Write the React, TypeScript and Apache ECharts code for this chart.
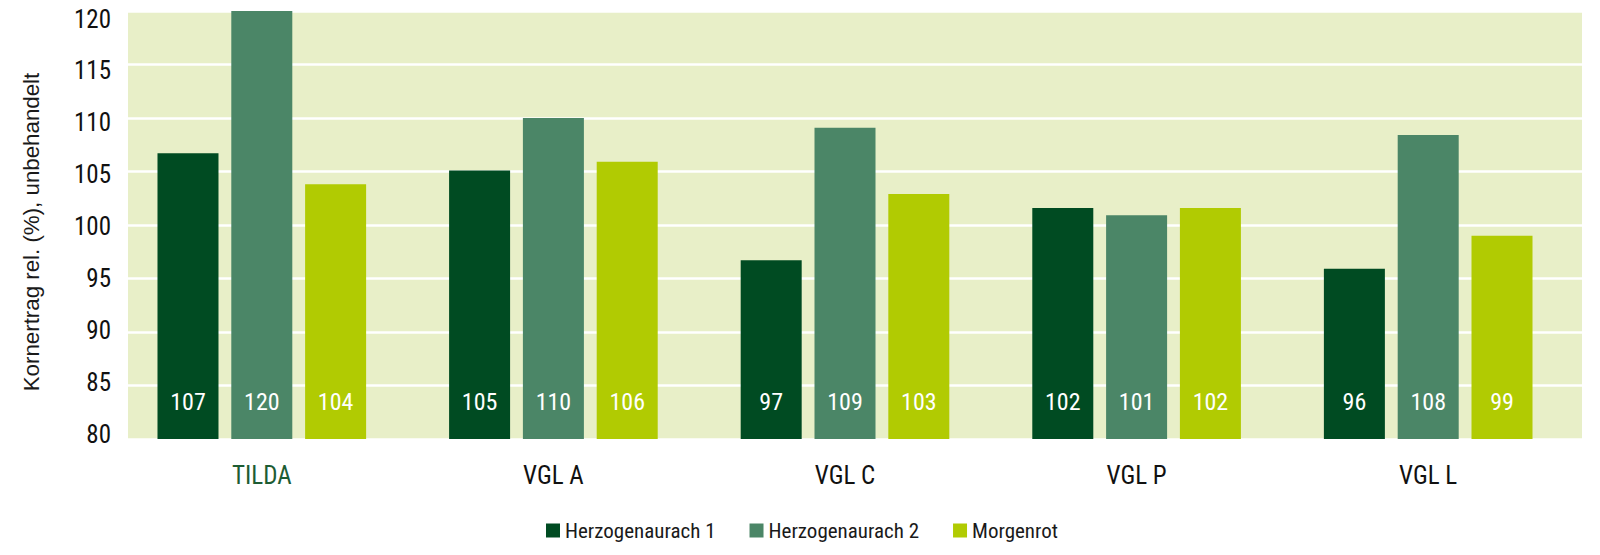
import React, { useEffect, useRef } from "react";
import * as echarts from "echarts";

const categories = ["TILDA", "VGL A", "VGL C", "VGL P", "VGL L"];
const seriesNames = ["Herzogenaurach 1", "Herzogenaurach 2", "Morgenrot"];
const herzogenaurach1 = [106.7, 105.1, 96.7, 101.6, 95.9];
const herzogenaurach2 = [120, 110, 109.1, 100.9, 108.4];
const morgenrot = [103.8, 105.9, 102.9, 101.6, 99.0];
const yTicks = { min: 80, max: 120, interval: 5 };
const yAxisTitle = "Kornertrag rel. (%), unbehandelt";
const colors = ["#004b22", "#4b8667", "#b1cb02"];

const NARROW = "'Roboto Condensed', 'Liberation Sans Narrow', 'Arial Narrow', 'Liberation Sans', Arial, sans-serif";
const REGULAR = "'Liberation Sans', Arial, sans-serif";

export default function App() {
  const ref = useRef<HTMLDivElement>(null);
  useEffect(() => {
    if (!ref.current) return;
    const chart = echarts.init(ref.current, null, { renderer: "svg" });
    const values = [herzogenaurach1, herzogenaurach2, morgenrot];
    chart.setOption({
      animation: false,
      backgroundColor: "#ffffff",
      textStyle: { fontFamily: NARROW },
      grid: [
        // plot background and grid lines
        { left: 128, top: 11, width: 1454, height: 428, show: true, backgroundColor: "#e8efc8", borderWidth: 0 },
        // bars
        { left: 116, top: 11, width: 1458, height: 428 },
        // y tick labels
        { left: 128, top: 19, width: 1454, height: 415 },
        // y axis title
        { left: 128, top: 37, width: 1454, height: 390 },
      ],
      legend: {
        data: seriesNames,
        left: 541,
        top: 515,
        itemWidth: 14,
        itemHeight: 14,
        itemGap: 34,
        icon: "rect",
        textStyle: { fontFamily: NARROW, fontSize: 21, color: "#1a1a1a" },
      },
      xAxis: [
        { gridIndex: 0, type: "category", data: categories, show: false },
        {
          gridIndex: 1,
          type: "category",
          data: categories.map((c, i) =>
            i === 0 ? { value: c, textStyle: { color: "#1d5c33" } } : c
          ),
          axisLine: { show: false },
          axisTick: { show: false },
          axisLabel: { fontFamily: NARROW, fontSize: 25, color: "#111111", margin: 24 },
        },
        { gridIndex: 2, type: "category", data: categories, show: false },
        { gridIndex: 3, type: "category", data: categories, show: false },
      ],
      yAxis: [
        {
          gridIndex: 0, type: "value", min: yTicks.min, max: yTicks.max, interval: yTicks.interval,
          axisLine: { show: false }, axisTick: { show: false }, axisLabel: { show: false },
          splitLine: { show: true, lineStyle: { color: "#ffffff", width: 2.5 } },
        },
        { gridIndex: 1, type: "value", min: yTicks.min, max: yTicks.max, interval: yTicks.interval, show: false, splitLine: { show: false } },
        {
          gridIndex: 2, type: "value", min: yTicks.min, max: yTicks.max, interval: yTicks.interval,
          axisLine: { show: false }, axisTick: { show: false }, splitLine: { show: false },
          axisLabel: { fontFamily: NARROW, fontSize: 25, color: "#111111", margin: 17 },
        },
        {
          gridIndex: 3, type: "value", min: yTicks.min, max: yTicks.max, interval: yTicks.interval,
          name: yAxisTitle, nameLocation: "middle", nameGap: 86,
          nameTextStyle: { fontFamily: REGULAR, fontSize: 22.3, color: "#1a1a1a" },
          axisLine: { show: false }, axisTick: { show: false }, axisLabel: { show: false }, splitLine: { show: false },
        },
      ],
      series: values.map((vals, i) => ({
        name: seriesNames[i],
        type: "bar",
        xAxisIndex: 1,
        yAxisIndex: 1,
        data: vals,
        barWidth: 61,
        barGap: "21%",
        itemStyle: { color: colors[i] },
        label: {
          show: true, position: "insideBottom", distance: 25, color: "#ffffff",
          fontFamily: NARROW, fontSize: 24,
          formatter: (p: any) => String(Math.round(p.value)),
        },
      })),
    });
    return () => chart.dispose();
  }, []);
  return <div ref={ref} style={{ position: "fixed", left: 0, top: 0, width: 1600, height: 555 }} />;
}
